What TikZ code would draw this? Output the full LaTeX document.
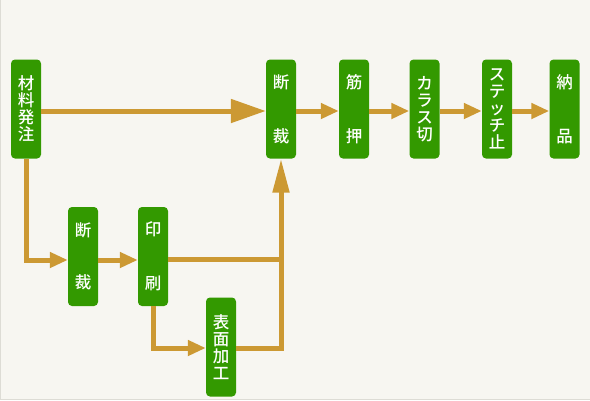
\documentclass[tikz,border=0pt]{standalone}
\usepackage{fontspec}
\newfontfamily\jp{Noto Sans CJK JP Medium}
\usetikzlibrary{arrows.meta}
\definecolor{bg}{HTML}{F7F6F1}
\definecolor{boxg}{HTML}{339900}
\definecolor{arrc}{HTML}{CC9933}
\definecolor{edgec}{HTML}{DDDCD5}
\begin{document}
\begin{tikzpicture}[x=1pt,y=-1pt,
  box/.style={fill=boxg, rounded corners=4pt, minimum width=30pt, minimum height=99pt,
    inner sep=0pt, text=white, font=\jp\fontsize{16.5}{17}\selectfont, align=center},
  flow/.style={draw=arrc, line width=5pt},
  bigtip/.style={-{Triangle[length=35pt,width=23pt]}},
  smalltip/.style={-{Triangle[length=18pt,width=15pt]}},
  uptip/.style={-{Triangle[length=34pt,width=16pt]}}]
\useasboundingbox (0,0) rectangle (590,400);
\fill[bg] (0,0) rectangle (590,400);
\draw[edgec, line width=1pt] (0.5,0) -- (0.5,399.5) -- (590,399.5);

% top row
\node[box] (zairyo) at (26,109) {材\\料\\発\\注};
\node[box] (dansai1) at (281,109) {断\\[37pt]裁};
\node[box] (sujioshi) at (354,109) {筋\\[37pt]押};
\node[box] (karasu) at (424.5,109) {カ\\ラ\\ス\\切};
\node[box] (stitch) at (497,109) {ス\\テ\\ッ\\チ\\止};
\node[box] (nohin) at (564.5,109) {納\\[37pt]品};

% lower rows
\node[box] (dansai2) at (83,256.5) {断\\[35pt]裁};
\node[box] (insatsu) at (153,256.5) {印\\[37pt]刷};
\node[box] (hyomen) at (221,347) {表\\面\\加\\工};

% connectors
\draw[flow,bigtip] ([yshift=-2pt]zairyo.east) -- ([yshift=-2pt]dansai1.west);
\draw[flow,smalltip] ([yshift=-2pt]dansai1.east) -- ([yshift=-2pt]sujioshi.west);
\draw[flow,smalltip] ([yshift=-2pt]sujioshi.east) -- ([yshift=-2pt]karasu.west);
\draw[flow,smalltip] ([yshift=-2pt]karasu.east) -- ([yshift=-2pt]stitch.west);
\draw[flow,smalltip] ([yshift=-2pt]stitch.east) -- ([yshift=-2pt]nohin.west);

\draw[flow,smalltip] (zairyo.south) |- ([yshift=-3.5pt]dansai2.west);
\draw[flow,smalltip] ([yshift=-3.5pt]dansai2.east) -- ([yshift=-3.5pt]insatsu.west);
\draw[flow] ([yshift=-2.5pt]insatsu.east) -- ([yshift=-2.5pt]insatsu.east -| dansai1.south);
\draw[flow,smalltip] (insatsu.south) |- ([yshift=-1pt]hyomen.west);
\draw[flow,uptip] ([yshift=-1pt]hyomen.east) -| (dansai1.south);
\end{tikzpicture}
\end{document}
